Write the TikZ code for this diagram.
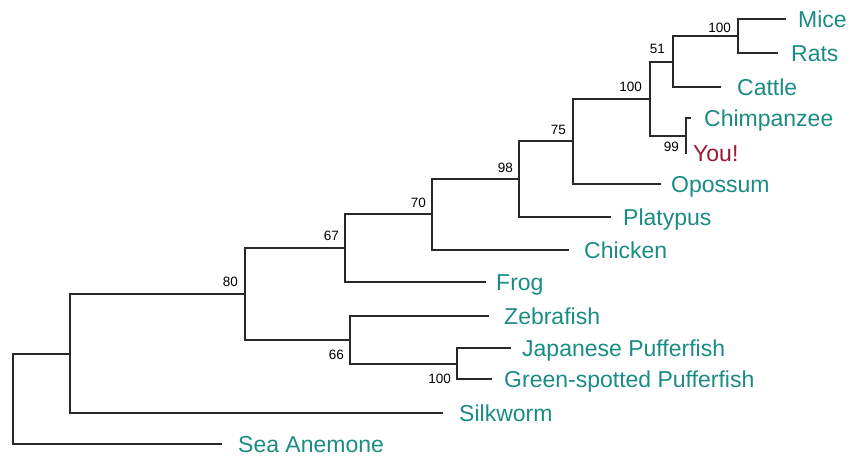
\documentclass[tikz,border=0pt]{standalone}
\usepackage{fontspec}
\setmainfont{Liberation Sans}
\definecolor{teal1}{RGB}{26,140,132}
\definecolor{youred}{RGB}{158,22,48}
\definecolor{branch}{RGB}{40,40,40}
\begin{document}
\begin{tikzpicture}[x=1pt,y=-1pt,
  br/.style={draw=branch,line width=1.4pt,line cap=rect},
  taxon/.style={anchor=base west,inner sep=0pt,text=teal1,font=\fontsize{23}{26}\selectfont},
  boot/.style={anchor=east,inner sep=0pt,text=black,font=\fontsize{13.5}{15}\selectfont}]
\useasboundingbox (0,0) rectangle (859,457);
% tip ends
\coordinate (mice) at (785,19);
\coordinate (rats) at (777,53);
\coordinate (cattle) at (720,87);
\coordinate (chimp) at (690,118);
\coordinate (you) at (686,153);
\coordinate (opossum) at (660,184);
\coordinate (platypus) at (610,217);
\coordinate (chicken) at (568,250);
\coordinate (frog) at (485,282);
\coordinate (zebra) at (488,316);
\coordinate (japanese) at (510,348);
\coordinate (green) at (491,379);
\coordinate (silkworm) at (442,413);
\coordinate (anemone) at (221,444);
% internal nodes
\coordinate (nMR) at (738,36);
\coordinate (n51) at (673,62);
\coordinate (nCY) at (686,136);
\coordinate (n100) at (650,99);
\coordinate (n75) at (573,141);
\coordinate (n98) at (519,179);
\coordinate (n70) at (432,214);
\coordinate (n67) at (345,248);
\coordinate (nPuf) at (457,364);
\coordinate (n66) at (350,340);
\coordinate (n80) at (245,294);
\coordinate (nR1) at (70,354);
\coordinate (root) at (13,399);
% branches
\draw[br] (mice) -| (nMR) |- (rats);
\draw[br] (nMR) -| (n51) |- (cattle);
\draw[br] (chimp) -| (nCY) |- (you);
\draw[br] (n51) -| (n100) |- (nCY);
\draw[br] (n100) -| (n75) |- (opossum);
\draw[br] (n75) -| (n98) |- (platypus);
\draw[br] (n98) -| (n70) |- (chicken);
\draw[br] (n70) -| (n67) |- (frog);
\draw[br] (japanese) -| (nPuf) |- (green);
\draw[br] (zebra) -| (n66) |- (nPuf);
\draw[br] (n67) -| (n80) |- (n66);
\draw[br] (n80) -| (nR1) |- (silkworm);
\draw[br] (nR1) -| (root) |- (anemone);
% taxa labels
\node[taxon] (tMice) at (798,27.5) {Mice};
\node[taxon] (tRats) at (791,61.5) {Rats};
\node[taxon] (tCattle) at (737,95.5) {Cattle};
\node[taxon] (tChimp) at (704,126.5) {Chimpanzee};
\node[taxon,text=youred] (tYou) at (693,161.5) {You!};
\node[taxon] (tOpossum) at (671,192.5) {Opossum};
\node[taxon] (tPlatypus) at (623,225.5) {Platypus};
\node[taxon] (tChicken) at (584,258.5) {Chicken};
\node[taxon] (tFrog) at (496,290.5) {Frog};
\node[taxon] (tZebra) at (504,324.5) {Zebrafish};
\node[taxon] (tJap) at (522,356.5) {Japanese Pufferfish};
\node[taxon] (tGreen) at (504,387.5) {Green-spotted Pufferfish};
\node[taxon] (tSilk) at (459,421.5) {Silkworm};
\node[taxon] (tAnem) at (238,452.5) {Sea Anemone};
% bootstrap values
\node[boot] (bMR) at (731,28) {100};
\node[boot] (b51) at (665,49) {51};
\node[boot] (b100) at (642,86.5) {100};
\node[boot] (b99) at (679,147) {99};
\node[boot] (b75) at (566,130) {75};
\node[boot] (b98) at (513,167.5) {98};
\node[boot] (b70) at (426,202.5) {70};
\node[boot] (b67) at (339,236) {67};
\node[boot] (b80) at (238,281.5) {80};
\node[boot] (b66) at (344,355) {66};
\node[boot] (bPuf) at (451,379) {100};
\end{tikzpicture}
\end{document}
